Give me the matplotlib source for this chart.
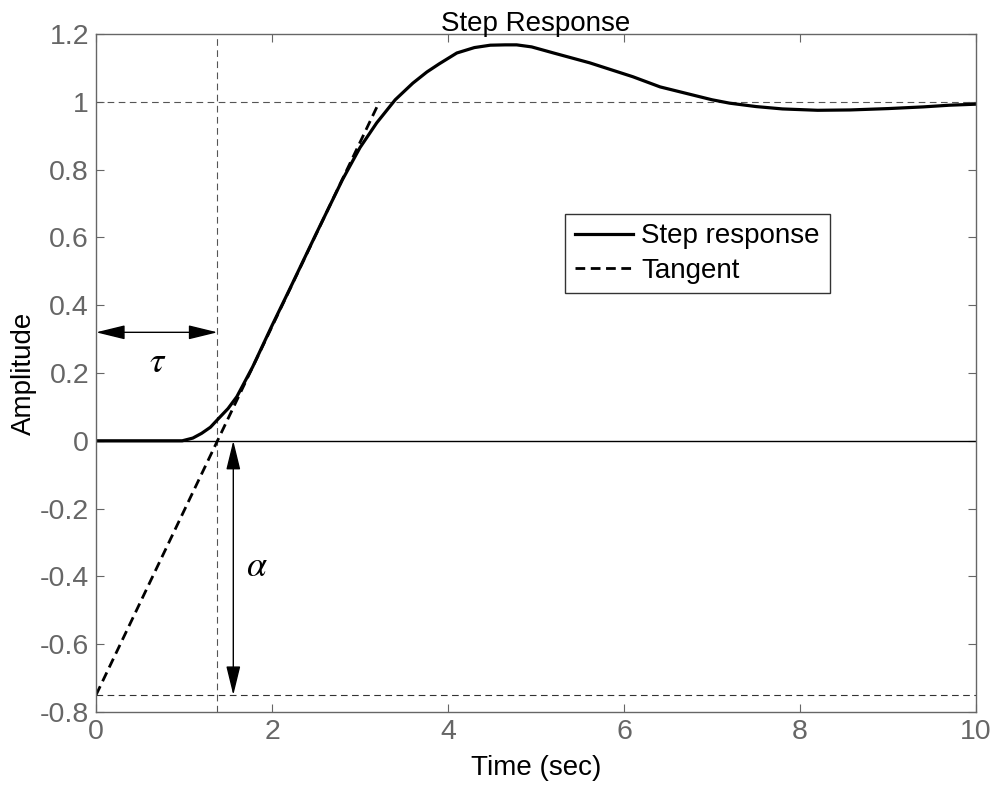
import numpy as np
import matplotlib.pyplot as plt

plt.rcParams['font.family'] = ['Liberation Sans', 'DejaVu Sans']
plt.rcParams['mathtext.fontset'] = 'stix'

# step response samples (time in sec, amplitude)
t_resp = [0.0, 0.5, 0.98, 1.1, 1.2, 1.3, 1.39, 1.5, 1.6, 1.78, 2.0, 2.2, 2.5, 2.8,
          3.0, 3.19, 3.4, 3.6, 3.76, 3.9, 4.1, 4.3, 4.48, 4.65, 4.78, 4.95, 5.2,
          5.61, 6.1, 6.41, 6.86, 7.0, 7.2, 7.5, 7.8, 8.2, 8.57, 9.0, 9.4, 9.7, 10.0]
y_resp = [0.0, 0.0, 0.0, 0.008, 0.022, 0.04, 0.065, 0.095, 0.13, 0.218, 0.34, 0.447,
          0.61, 0.77, 0.865, 0.938, 1.006, 1.055, 1.088, 1.112, 1.144, 1.16,
          1.167, 1.168, 1.168, 1.162, 1.144, 1.115, 1.074, 1.044, 1.015, 1.006,
          0.996, 0.986, 0.979, 0.975, 0.976, 0.98, 0.985, 0.99, 0.993]

tau = 1.38     # dead time
alpha = 0.75   # tangent intercept below zero
t_tan = [0.0, 3.22]
y_tan = [-alpha, 1.0]

fig = plt.figure(figsize=(9.94, 7.91), dpi=100)
ax = fig.add_axes([0.0966, 0.0999, 0.8853, 0.8571])

# guide lines
ax.axhline(1.0, color='#555555', lw=0.8, ls=(0, (6, 4)))
ax.axhline(-alpha, color='#333333', lw=0.8, ls=(0, (6, 4)))
ax.axvline(tau, color='#555555', lw=0.8, ls=(0, (6, 4)))
ax.axhline(0.0, color='black', lw=1.0)

ax.plot(t_resp, y_resp, color='black', lw=2.3, label='Step response')
ax.plot(t_tan, y_tan, color='black', lw=2.0, ls=(0, (3.5, 2)), label='Tangent')

arrow = dict(arrowstyle='<|-|>,head_length=0.9,head_width=0.22', color='black',
             lw=1.0, mutation_scale=20, shrinkA=0, shrinkB=0)

# tau arrow
ax.annotate('', xy=(0.0, 0.32), xytext=(tau, 0.32), arrowprops=arrow)
ax.text(0.7, 0.23, r'$\tau$', fontsize=26, ha='center', va='center')

# alpha arrow
ax.annotate('', xy=(1.56, 0.0), xytext=(1.56, -alpha), arrowprops=arrow)
ax.text(1.83, -0.37, r'$\alpha$', fontsize=26, ha='center', va='center')

ax.set_xlim(0, 10)
ax.set_ylim(-0.8, 1.2)
ax.set_xticks(np.arange(0, 11, 2))
ax.set_yticks(np.round(np.arange(-0.8, 1.21, 0.2), 1))
ax.set_yticklabels(['-0.8', '-0.6', '-0.4', '-0.2', '0', '0.2', '0.4', '0.6',
                    '0.8', '1', '1.2'])
ax.tick_params(direction='in', top=True, right=True, length=6, width=0.8,
               colors='#666666', labelsize=20.5, labelcolor='#666666', pad=5)
for sp in ax.spines.values():
    sp.set_color('#666666')
    sp.set_linewidth(1.0)

ax.set_title('Step Response', fontsize=20, pad=2)
ax.set_xlabel('Time (sec)', fontsize=20, labelpad=7)
ax.set_ylabel('Amplitude', fontsize=20, labelpad=2)

leg = ax.legend(loc='upper left', bbox_to_anchor=(0.533, 0.735), fontsize=20,
                frameon=True, fancybox=False, handlelength=2.1, borderpad=0.35,
                labelspacing=0.3, handletextpad=0.3, borderaxespad=0)
leg.get_frame().set_edgecolor('black')
leg.get_frame().set_linewidth(1.0)

fig.savefig('out.png', dpi=100)
